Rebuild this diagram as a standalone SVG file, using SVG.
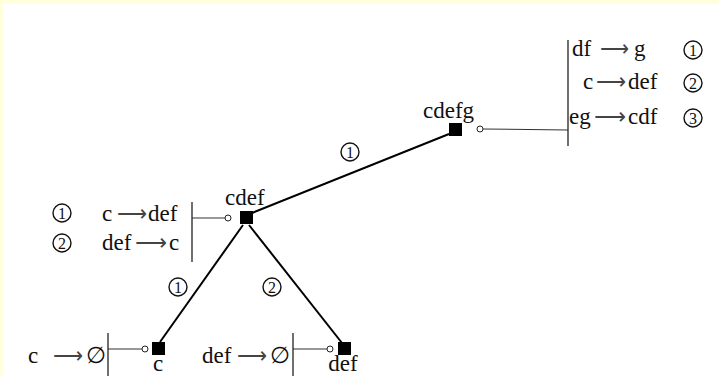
<svg xmlns="http://www.w3.org/2000/svg" width="719" height="376" viewBox="0 0 719 376">
<style>
text{font-family:"Liberation Serif","DejaVu Sans","Noto Sans CJK SC",serif;font-size:23px;fill:#111}
.num{font-size:16px;text-anchor:middle}
.ring{fill:none;stroke:#111;stroke-width:1.4}
.edge{stroke:#000;stroke-width:2;fill:none}
.rule{stroke:#333;stroke-width:1.1;fill:none}
.bar{stroke:#222;stroke-width:1.3;fill:none}
.dot{fill:#fff;stroke:#222;stroke-width:1}
.node{fill:#000}
.arr{font-family:"DejaVu Sans",sans-serif;fill:#444}
</style>
<rect width="719" height="376" fill="#ffffdd"/>
<rect x="3" y="4" width="716" height="372" fill="#fff"/>
<g id="connectors">
<line class="edge" x1="449" y1="134" x2="252" y2="213"/>
<line class="edge" x1="243" y1="225" x2="160" y2="342"/>
<line class="edge" x1="249" y1="225" x2="342" y2="343"/>
<g id="edge-labels">
<circle class="ring" cx="350" cy="152" r="9"/><text class="num" x="350" y="157.5">1</text>
<circle class="ring" cx="178" cy="287" r="9"/><text class="num" x="178" y="292.5">1</text>
<circle class="ring" cx="272" cy="287" r="9"/><text class="num" x="272" y="292.5">2</text>
</g>
<line class="rule" x1="483" y1="129" x2="568" y2="130"/>
<line class="rule" x1="192" y1="218" x2="225" y2="218"/>
<line class="rule" x1="108" y1="349" x2="142" y2="349"/>
<line class="rule" x1="293" y1="349" x2="327" y2="349"/>
</g>
<g id="cdefg">
<rect class="node" x="449" y="123" width="13" height="13"/>
<text x="423" y="118">cdefg</text>
<circle class="dot" cx="480" cy="129" r="3"/>
</g>
<g id="cdefg-rules">
<line class="bar" x1="568" y1="40" x2="568" y2="146"/>
<text y="56"><tspan x="572">df</tspan><tspan class="arr" x="600" textLength="29" lengthAdjust="spacingAndGlyphs">⟶</tspan><tspan x="634">g</tspan></text>
<text y="89"><tspan x="583">c</tspan><tspan class="arr" x="596" textLength="30" lengthAdjust="spacingAndGlyphs">⟶</tspan><tspan x="628">def</tspan></text>
<text y="124"><tspan x="569">eg</tspan><tspan class="arr" x="594" textLength="32" lengthAdjust="spacingAndGlyphs">⟶</tspan><tspan x="628">cdf</tspan></text>
<circle class="ring" cx="693" cy="50" r="9"/><text class="num" x="693" y="55.5">1</text>
<circle class="ring" cx="693" cy="83" r="9"/><text class="num" x="693" y="88.5">2</text>
<circle class="ring" cx="693" cy="118" r="9"/><text class="num" x="693" y="123.5">3</text>
</g>
<g id="cdef">
<rect class="node" x="240" y="211" width="13" height="13"/>
<text x="225" y="205">cdef</text>
<circle class="dot" cx="228" cy="218" r="3"/>
</g>
<g id="cdef-rules">
<line class="bar" x1="192" y1="202" x2="192" y2="262"/>
<circle class="ring" cx="62" cy="213" r="9"/><text class="num" x="62" y="218.5">1</text>
<circle class="ring" cx="62" cy="243" r="9"/><text class="num" x="62" y="248.5">2</text>
<text y="221"><tspan x="102">c</tspan><tspan class="arr" x="117" textLength="30" lengthAdjust="spacingAndGlyphs">⟶</tspan><tspan x="148">def</tspan></text>
<text y="250"><tspan x="102">def</tspan><tspan class="arr" x="135" textLength="32" lengthAdjust="spacingAndGlyphs">⟶</tspan><tspan x="169">c</tspan></text>
</g>
<g id="c">
<rect class="node" x="152" y="342" width="13" height="13"/>
<text x="158" y="371" text-anchor="middle">c</text>
<circle class="dot" cx="145" cy="349" r="3"/>
<line class="bar" x1="108" y1="333" x2="108" y2="376"/>
<text y="363"><tspan x="28">c</tspan><tspan class="arr" x="53" textLength="30" lengthAdjust="spacingAndGlyphs">⟶</tspan><tspan x="86">∅</tspan></text>
</g>
<g id="def">
<rect class="node" x="338" y="342" width="13" height="13"/>
<text x="343" y="371" text-anchor="middle">def</text>
<circle class="dot" cx="330" cy="349" r="3"/>
<line class="bar" x1="293" y1="333" x2="293" y2="376"/>
<text y="363"><tspan x="202">def</tspan><tspan class="arr" x="237" textLength="30" lengthAdjust="spacingAndGlyphs">⟶</tspan><tspan x="270">∅</tspan></text>
</g>
</svg>
